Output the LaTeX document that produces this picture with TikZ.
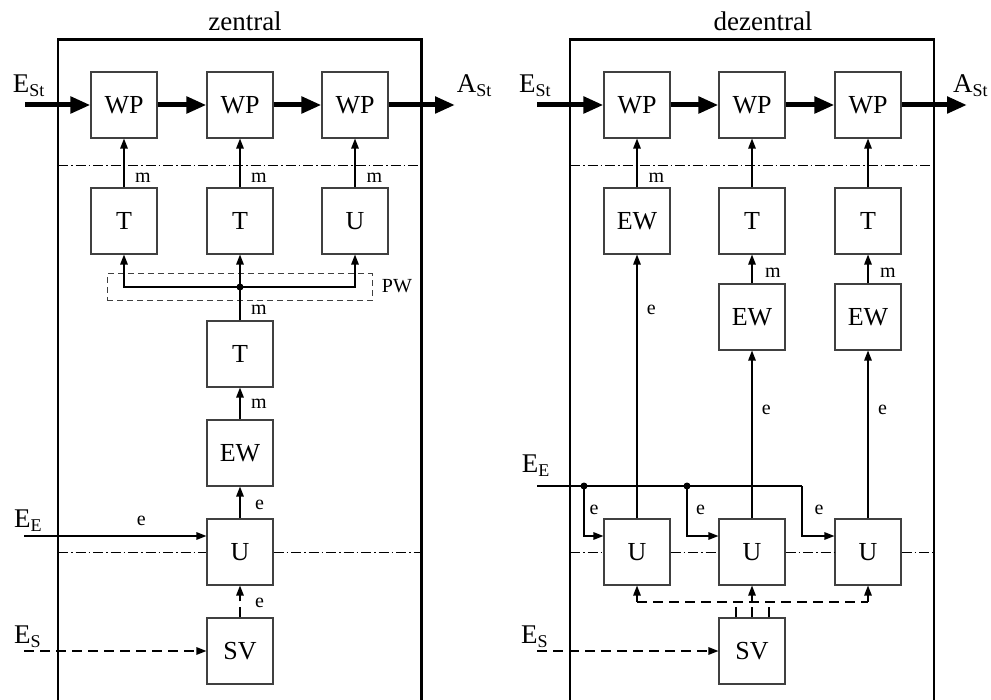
\documentclass[tikz,border=0pt]{standalone}
\usepackage{fontspec}
\setmainfont{Liberation Serif}
\usetikzlibrary{arrows.meta}
\begin{document}
\begin{tikzpicture}[x=1pt,y=-1pt,
  box/.style={draw=black!75, line width=1.1pt, minimum width=66pt, minimum height=66pt, inner sep=0pt, font=\fontsize{26}{30}\selectfont},
  lbl/.style={anchor=base west, inner sep=0pt, font=\fontsize{20}{24}\selectfont},
  biglbl/.style={anchor=base west, inner sep=0pt, font=\fontsize{27}{30}\selectfont},
  title/.style={anchor=base, inner sep=0pt, font=\fontsize{27}{30}\selectfont},
  frame/.style={line width=2.5pt},
  thickarr/.style={line width=5pt, -{Triangle[length=20pt,width=16pt]}},
  arr/.style={line width=1.2pt, -{Triangle[length=10pt,width=7.5pt]}},
  plain/.style={line width=1.2pt},
  dsh/.style={line width=1.2pt, dash pattern=on 10pt off 6pt},
  dashdot/.style={line width=0.8pt, dash pattern=on 10pt off 3pt on 1.5pt off 3pt},
  pwbox/.style={draw=black!75, line width=1pt, dash pattern=on 6pt off 4pt, minimum width=265pt, minimum height=27pt, inner sep=0pt},
  dot/.style={circle, fill=black, minimum size=7pt, inner sep=0pt}
]
\useasboundingbox (0,0) rectangle (991,700);

% ================= LEFT: zentral =================
\node[title] (tz) at (245,30.7) {zentral};
\draw[frame] (58,702) -- (58,39.5) -- (421.5,39.5) -- (421.5,702);

\node[box] (wp1) at (124,105) {WP};
\node[box] (wp2) at (240,105) {WP};
\node[box] (wp3) at (355,105) {WP};
\node[box] (t1) at (124,221) {T};
\node[box] (t2) at (240,221) {T};
\node[box] (u0) at (355,221) {U};
\node[box] (tm) at (240,354) {T};
\node[box] (ewm) at (240,453) {EW};
\node[box] (um) at (240,552) {U};
\node[box] (svm) at (240,651) {SV};

\node[pwbox] (pw) at (239.5,287.5) {};
\node[lbl] (pwl) at (381.7,293) {PW};
\coordinate (j) at (240,287);

\coordinate (dl1) at (58,165);
\coordinate (dr1) at (421.5,165);
\draw[dashdot] (dl1) -- (dr1);
\coordinate (dl2) at (58,552);
\coordinate (dr2) at (421.5,552);
\draw[dashdot] (dl2) -- (um.west);
\draw[dashdot] (um.east) -- (dr2);

\node[biglbl] (estl) at (12.7,93) {E\raisebox{-4pt}{\fontsize{18}{20}\selectfont St}};
\node[biglbl] (astl) at (456.7,93) {A\raisebox{-4pt}{\fontsize{18}{20}\selectfont St}};
\coordinate (ein) at (25,105);
\coordinate (aout) at (455,105);
\draw[thickarr] (ein) -- (wp1.west);
\draw[thickarr] (wp1.east) -- (wp2.west);
\draw[thickarr] (wp2.east) -- (wp3.west);
\draw[thickarr] (wp3.east) -- (aout);

\draw[arr] (t1.north) -- (wp1.south);
\draw[arr] (t2.north) -- (wp2.south);
\draw[arr] (u0.north) -- (wp3.south);
\node[lbl] (m1) at (135,183) {m};
\node[lbl] (m2) at (251,183) {m};
\node[lbl] (m3) at (366.5,183) {m};

\draw[plain] (tm.north) -- (j);
\draw[arr] (j) -- (t2.south);
\draw[arr] (j) -| (t1.south);
\draw[arr] (j) -| (u0.south);
\node[dot] (jd) at (j) {};
\node[lbl] (m4) at (251,315) {m};

\draw[arr] (ewm.north) -- (tm.south);
\node[lbl] (m5) at (251,409) {m};
\draw[arr] (um.north) -- (ewm.south);
\node[lbl] (e1) at (255,509) {e};
\draw[dsh,-{Triangle[length=10pt,width=7.5pt]}] (svm.north) -- (um.south);
\node[lbl] (e2) at (255,607.7) {e};

\node[biglbl] (eel) at (14,527.7) {E\raisebox{-4pt}{\fontsize{18}{20}\selectfont E}};
\coordinate (ees) at (24,536);
\draw[arr] (ees) -- (um.west |- ees);
\node[lbl] (e3) at (136.7,525.7) {e};

\node[biglbl] (esl) at (14,643) {E\raisebox{-4pt}{\fontsize{18}{20}\selectfont S}};
\coordinate (ess) at (24,651);
\draw[dsh,-{Triangle[length=10pt,width=7.5pt]}] (ess) -- (svm.west);

% ================= RIGHT: dezentral =================
\node[title] (td) at (763,30.7) {dezentral};
\draw[frame] (570,702) -- (570,39.5) -- (934,39.5) -- (934,702);

\node[box] (wpa) at (637,105) {WP};
\node[box] (wpb) at (752,105) {WP};
\node[box] (wpc) at (868,105) {WP};
\node[box] (ewa) at (637,221) {EW};
\node[box] (tb) at (752,221) {T};
\node[box] (tc) at (868,221) {T};
\node[box] (ewb) at (752,317) {EW};
\node[box] (ewc) at (868,317) {EW};
\node[box] (ua) at (637,552) {U};
\node[box] (ub) at (752,552) {U};
\node[box] (uc) at (868,552) {U};
\node[box] (svr) at (752,651) {SV};

\coordinate (rdl1) at (570,165);
\coordinate (rdr1) at (934,165);
\draw[dashdot] (rdl1) -- (rdr1);
\coordinate (rdl2) at (570,552);
\coordinate (rdr2) at (934,552);
\draw[dashdot] (rdl2) -- (ua.west);
\draw[dashdot] (ua.east) -- (ub.west);
\draw[dashdot] (ub.east) -- (uc.west);
\draw[dashdot] (uc.east) -- (rdr2);

\node[biglbl] (restl) at (519,93) {E\raisebox{-4pt}{\fontsize{18}{20}\selectfont St}};
\node[biglbl] (rastl) at (953,93) {A\raisebox{-4pt}{\fontsize{18}{20}\selectfont St}};
\coordinate (rein) at (537,105);
\coordinate (raout) at (967,105);
\draw[thickarr] (rein) -- (wpa.west);
\draw[thickarr] (wpa.east) -- (wpb.west);
\draw[thickarr] (wpb.east) -- (wpc.west);
\draw[thickarr] (wpc.east) -- (raout);

\draw[arr] (ewa.north) -- (wpa.south);
\draw[arr] (tb.north) -- (wpb.south);
\draw[arr] (tc.north) -- (wpc.south);
\node[lbl] (rm1) at (648.3,183) {m};
\draw[arr] (ewb.north) -- (tb.south);
\draw[arr] (ewc.north) -- (tc.south);
\node[lbl] (rm2) at (765,277.7) {m};
\node[lbl] (rm3) at (880,277.7) {m};

\draw[arr] (ua.north) -- (ewa.south);
\draw[arr] (ub.north) -- (ewb.south);
\draw[arr] (uc.north) -- (ewc.south);
\node[lbl] (re1) at (646.7,315) {e};
\node[lbl] (re2) at (761.7,415) {e};
\node[lbl] (re3) at (878,415) {e};

\node[biglbl] (reel) at (521.7,473) {E\raisebox{-4pt}{\fontsize{18}{20}\selectfont E}};
\coordinate (rees) at (537,486);
\coordinate (ja) at (584,486);
\coordinate (jb) at (687,486);
\coordinate (jc) at (802,486);
\draw[plain] (rees) -- (jc);
\draw[arr] (jc) -- (802,536) -- (uc.west |- 0,536);
\draw[arr] (ja) -- (584,536) -- (ua.west |- 0,536);
\draw[arr] (jb) -- (687,536) -- (ub.west |- 0,536);
\node[dot] (jad) at (ja) {};
\node[dot] (jbd) at (jb) {};
\node[lbl] (re4) at (589.3,514) {e};
\node[lbl] (re5) at (696,514) {e};
\node[lbl] (re6) at (814.3,514) {e};

\coordinate (sl) at (637,602);
\coordinate (sr) at (868,602);
\draw[dsh] (sl) -- (sr);
\draw[dsh,-{Triangle[length=10pt,width=7.5pt]}] (sl) -- (ua.south);
\draw[dsh,-{Triangle[length=10pt,width=7.5pt]}] (sr) -- (uc.south);
\draw[dsh,-{Triangle[length=10pt,width=7.5pt]}] (svr.north) -- (ub.south);
\draw[plain] ([xshift=-16pt]svr.north) -- ++(0,-10);
\draw[plain] ([xshift=17pt]svr.north) -- ++(0,-10);

\node[biglbl] (resl) at (521,643) {E\raisebox{-4pt}{\fontsize{18}{20}\selectfont S}};
\coordinate (ress) at (537,651);
\draw[dsh,-{Triangle[length=10pt,width=7.5pt]}] (ress) -- (svr.west);
\end{tikzpicture}
\end{document}
